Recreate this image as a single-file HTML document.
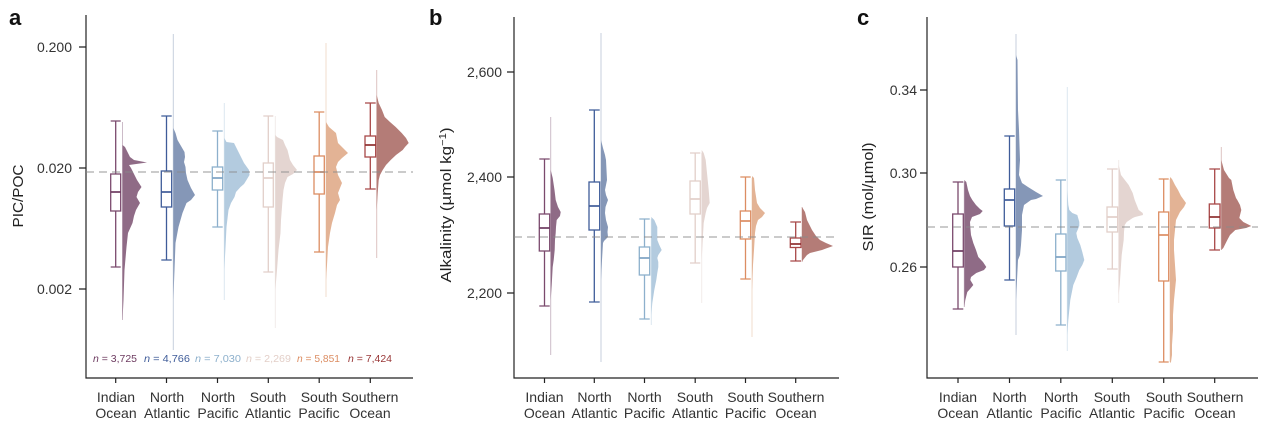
<!DOCTYPE html>
<html><head><meta charset="utf-8">
<style>
html,body{margin:0;padding:0;background:#fff;}
svg{display:block;}
text{font-family:"Liberation Sans",sans-serif;}
</style></head>
<body>
<svg width="1266" height="433" viewBox="0 0 1266 433" xmlns="http://www.w3.org/2000/svg">
<!-- panel letters -->
<text x="9" y="25" font-size="22" font-weight="bold" fill="#111">a</text>
<text x="429" y="25" font-size="22" font-weight="bold" fill="#111">b</text>
<text x="857" y="25" font-size="22" font-weight="bold" fill="#111">c</text>

<!-- axis labels -->
<text transform="translate(23,196) rotate(-90)" text-anchor="middle" font-size="15" fill="#222" textLength="63" lengthAdjust="spacingAndGlyphs">PIC/POC</text>
<text transform="translate(451,205) rotate(-90)" text-anchor="middle" font-size="15" fill="#222" textLength="155" lengthAdjust="spacingAndGlyphs">Alkalinity (µmol kg<tspan dy="-5" font-size="10">−1</tspan><tspan dy="5">)</tspan></text>
<text transform="translate(873,197) rotate(-90)" text-anchor="middle" font-size="15" fill="#222" textLength="109" lengthAdjust="spacingAndGlyphs">SIR (mol/µmol)</text>

<g font-size="14" fill="#333" text-anchor="end">
<text x="72" y="52">0.200</text>
<text x="72" y="173">0.020</text>
<text x="72" y="294">0.002</text>
<text x="502" y="77">2,600</text>
<text x="502" y="182">2,400</text>
<text x="502" y="298">2,200</text>
<text x="917" y="95">0.34</text>
<text x="917" y="178">0.30</text>
<text x="917" y="272">0.26</text>
</g>

<!-- axes -->
<g stroke="#222" stroke-width="1.2" fill="none">
<path d="M86,15 V378 H413"/>
<path d="M79,47 H86 M79,168 H86 M79,289 H86"/>
<path d="M115.7,378 v5 M166.5,378 v5 M217.5,378 v5 M268.3,378 v5 M319.2,378 v5 M370.3,378 v5"/>
<path d="M514,17 V378 H839"/>
<path d="M507,72 H514 M507,177 H514 M507,293 H514"/>
<path d="M544.5,378 v5 M594.3,378 v5 M644.5,378 v5 M695.2,378 v5 M745.5,378 v5 M795.7,378 v5"/>
<path d="M927,17 V378 H1258"/>
<path d="M920,90 H927 M920,173 H927 M920,267 H927"/>
<path d="M958,378 v5 M1009.5,378 v5 M1060.8,378 v5 M1112.3,378 v5 M1163.7,378 v5 M1214.7,378 v5"/>
</g>

<!-- category labels -->
<g font-size="14" fill="#333" text-anchor="middle">
<text x="116" y="402">Indian</text><text x="116" y="418">Ocean</text>
<text x="167" y="402">North</text><text x="167" y="418">Atlantic</text>
<text x="218" y="402">North</text><text x="218" y="418">Pacific</text>
<text x="268" y="402">South</text><text x="268" y="418">Atlantic</text>
<text x="319" y="402">South</text><text x="319" y="418">Pacific</text>
<text x="370" y="402">Southern</text><text x="370" y="418">Ocean</text>

<text x="544.5" y="402">Indian</text><text x="544.5" y="418">Ocean</text>
<text x="594.5" y="402">North</text><text x="594.5" y="418">Atlantic</text>
<text x="644.5" y="402">North</text><text x="644.5" y="418">Pacific</text>
<text x="695" y="402">South</text><text x="695" y="418">Atlantic</text>
<text x="745.5" y="402">South</text><text x="745.5" y="418">Pacific</text>
<text x="796" y="402">Southern</text><text x="796" y="418">Ocean</text>

<text x="958" y="402">Indian</text><text x="958" y="418">Ocean</text>
<text x="1009.5" y="402">North</text><text x="1009.5" y="418">Atlantic</text>
<text x="1061" y="402">North</text><text x="1061" y="418">Pacific</text>
<text x="1112" y="402">South</text><text x="1112" y="418">Atlantic</text>
<text x="1164" y="402">South</text><text x="1164" y="418">Pacific</text>
<text x="1215" y="402">Southern</text><text x="1215" y="418">Ocean</text>
</g>

<!-- n labels -->
<g font-size="10.5">
<text x="93" y="362" fill="#6d3b60" textLength="44" lengthAdjust="spacingAndGlyphs"><tspan font-style="italic">n</tspan> = 3,725</text>
<text x="144" y="362" fill="#3f5c99" textLength="46" lengthAdjust="spacingAndGlyphs"><tspan font-style="italic">n</tspan> = 4,766</text>
<text x="195" y="362" fill="#8db0cc" textLength="46" lengthAdjust="spacingAndGlyphs"><tspan font-style="italic">n</tspan> = 7,030</text>
<text x="246" y="362" fill="#e3cfc8" textLength="45" lengthAdjust="spacingAndGlyphs"><tspan font-style="italic">n</tspan> = 2,269</text>
<text x="297" y="362" fill="#dc8d62" textLength="43" lengthAdjust="spacingAndGlyphs"><tspan font-style="italic">n</tspan> = 5,851</text>
<text x="348" y="362" fill="#983636" textLength="44" lengthAdjust="spacingAndGlyphs"><tspan font-style="italic">n</tspan> = 7,424</text>
</g>

<!-- tails (thin lines) -->
<g stroke-width="1" opacity="0.45">
<path stroke="#8f6b86" d="M122.5,122 V320"/>
<path stroke="#8597b7" d="M173.3,34 V350"/>
<path stroke="#b3cbdf" d="M224.3,103 V300"/>
<path stroke="#e4d5d1" d="M275.3,116 V328"/>
<path stroke="#e3b395" d="M326,43 V297"/>
<path stroke="#b47c77" d="M376.7,70 V258"/>

<path stroke="#8f6b86" d="M550.7,117 V355"/>
<path stroke="#8597b7" d="M601,33 V362"/>
<path stroke="#b3cbdf" d="M651.3,219 V325"/>
<path stroke="#e4d5d1" d="M701.7,153 V303"/>
<path stroke="#e3b395" d="M752,178 V337"/>
<path stroke="#b47c77" d="M802,207 V262"/>

<path stroke="#8f6b86" d="M964.3,182 V307"/>
<path stroke="#8597b7" d="M1016,34 V335"/>
<path stroke="#b3cbdf" d="M1067.3,87 V351"/>
<path stroke="#e4d5d1" d="M1118.7,160 V303"/>
<path stroke="#e3b395" d="M1170,179 V362"/>
<path stroke="#b47c77" d="M1221.3,147 V250"/>
</g>

<!-- violins panel a -->
<polygon fill="#8f6b86" points="122.5,145 125,147 130,157 134,160 147,162.5 129,165 131,168 133,172 137,180 141.5,187 138,192 136.5,197 140,203 136,210 134,216 132.5,223 128,233 126.5,247 124.5,270 123.5,300 122.5,320"/>
<polygon fill="#8597b7" points="173.3,128 175.5,133 177.5,140 181,146 184.5,152 185,157 184,162 185.5,167 186,173 187.5,180 191,188 195,195 191,200 186.5,203 182.5,213 178.5,227 175.5,243 174.5,270 173.3,300"/>
<polygon fill="#b3cbdf" points="224.3,138 226.5,142 234,143 239,153 244,163 249,170 249.5,175 246.5,180 244,184 240.5,187 236,192 234.5,197 231,203 228.5,210 226.5,227 225.5,247 224.3,270"/>
<polygon fill="#e4d5d1" points="275.3,135 277,137 283,140 285,145 287.5,150 290,160 293,165 297,170 293,174 287.5,177 285,183 283.5,190 282.5,200 282,207 281,220 280.5,233 278.5,250 277,270 275.3,290"/>
<polygon fill="#e3b395" points="326,122 329,127 336,133 337,138 338,143 343,148 348,153 342,158 338,162 336,167 338,175 342,183 340,188 338,193 340,200 337,205 335,213 332,223 330,233 328,247 327,265 326,280"/>
<polygon fill="#b47c77" points="376.7,95 378.7,103 382,110 384.7,117 390,122 395.7,127 401.7,133 406,138 408.7,143 405,147 402.7,150 396,155 390.7,160 386,165 382.7,170 380,175 378.7,180 377.7,193 376.7,210"/>

<!-- violins panel b -->
<polygon fill="#8f6b86" points="550.7,170 552.7,178 554.5,190 555.7,200 558,207 560.7,212 560,216 556.7,220 556,227 555.7,233 555,240 554.7,250 553.7,260 552.7,267 551.7,285 550.7,300"/>
<polygon fill="#8597b7" points="601,140 603,148 605,155 606,160 606.5,170 607,180 605,190 606,195 608,200 605.5,207 605,213 606,220 608,227 607.5,232 608,237 604,241 603,243 602,260 601,280"/>
<polygon fill="#b3cbdf" points="651.3,217 654.3,220 657.3,227 657.3,233 657.3,240 659.3,245 661.7,250 658.3,255 657.3,258 658.3,262 658.3,267 657.3,273 656.3,280 654.3,290 652.3,303 651.3,315"/>
<polygon fill="#e4d5d1" points="701.7,150 703.7,153 705.7,160 706.7,170 707.7,180 708.7,190 709.7,203 707,208 705.7,213 703.7,223 702.7,240 701.7,260"/>
<polygon fill="#e3b395" points="752,176 754,178 755,190 757,203 760,208 765,213 762,217 758,220 756,226 755,233 754,250 753,265 752,290"/>
<polygon fill="#b47c77" points="802,207 805,212 807,220 812,230 816,236 820,240 826,243 833,246 826,248.5 822,250 810,253 807,255 803,260 802,262"/>

<!-- violins panel c -->
<polygon fill="#8f6b86" points="964.3,180 966.3,182 968,190 970,196 972.3,200 976,205 980,209 982.7,211 980,214 972,217 970,222 970.3,227 971,235 973.3,243 976,250 978.3,257 983,262 986.3,267 984,270 976.3,273 971,277 970.3,280 973.3,285 970,289 967.3,292 965.3,300 964.3,307"/>
<polygon fill="#8597b7" points="1016,55 1017.5,60 1018,110 1019,130 1020,160 1019,175 1022,183 1028,187 1036,192 1043,196 1036,199 1031,200 1024,205 1022,215 1022,230 1021,245 1020,255 1018,260 1017,280 1016,300"/>
<polygon fill="#b3cbdf" points="1067.3,190 1068.3,205 1069.3,210 1072.3,213 1077.3,215 1079.3,222 1079.3,226 1076.3,233 1077.3,238 1080.3,245 1082.3,252 1084.3,260 1082.3,265 1079.3,270 1076.3,278 1073.3,285 1070.3,300 1068.3,320 1067.3,335"/>
<polygon fill="#e4d5d1" points="1118.7,165 1121,175 1128.7,185 1132.7,193 1134.7,200 1138.7,210 1142.7,213 1143,215 1135,217 1132.7,218 1126.7,222 1124.7,225 1124,232 1123.7,240 1121.7,255 1120.7,270 1119.7,285 1118.7,295"/>
<polygon fill="#e3b395" points="1170,177 1172,179 1175,185 1178,190 1181,196 1186,203 1184,207 1180,212 1176,220 1175,230 1174,240 1174,250 1175,265 1176,280 1175,290 1174,300 1173,315 1173,330 1172,345 1172,355 1171,362 1170,363"/>
<polygon fill="#b47c77" points="1221.3,160 1224,170 1229,178 1231.3,180 1233.3,190 1236,198 1237.3,200 1240,205 1241.3,210 1239.3,218 1243.3,222 1251.3,226 1246,228 1235.3,230 1230,235 1227.3,240 1223.3,248 1221.3,250"/>

<!-- boxplots -->
<g fill="#fff" stroke-width="1.3">
<!-- panel a -->
<g stroke="#7b4a6d"><path fill="none" d="M115.7,121 V174 M115.7,211 V267 M110.7,121 H120.7 M110.7,267 H120.7"/><rect x="110.7" y="174" width="10" height="37"/><path stroke-width="1.7" stroke="#6d3b60" d="M110.7,192 H120.7"/></g>
<g stroke="#3f5c99"><path fill="none" d="M166.5,116 V171 M166.5,207 V260 M161.3,116 H171.7 M161.3,260 H171.7"/><rect x="161.3" y="171" width="10.4" height="36"/><path stroke-width="1.7" d="M161.3,192 H171.7"/></g>
<g stroke="#8db0cc"><path fill="none" d="M217.5,131 V167 M217.5,190 V227 M212.3,131 H222.7 M212.3,227 H222.7"/><rect x="212.3" y="167" width="10.4" height="23"/><path stroke-width="1.7" stroke="#7da3c3" d="M212.3,178 H222.7"/></g>
<g stroke="#e2cfc9"><path fill="none" d="M268.3,116 V163 M268.3,207 V272 M263.3,116 H273.3 M263.3,272 H273.3"/><rect x="263.3" y="163" width="10" height="44"/><path stroke-width="1.7" d="M263.3,178 H273.3"/></g>
<g stroke="#dc8d62"><path fill="none" d="M319.2,112 V156 M319.2,194 V252 M314,112 H324.3 M314,252 H324.3"/><rect x="314" y="156" width="10.3" height="38"/><path stroke-width="1.7" d="M314,172 H324.3"/></g>
<g stroke="#a84848"><path fill="none" d="M370.3,103 V136 M370.3,157 V189 M365,103 H375.7 M365,189 H375.7"/><rect x="365" y="136" width="10.7" height="21"/><path stroke-width="1.7" stroke="#8e2f2f" d="M365,145 H375.7"/></g>
<!-- panel b -->
<g stroke="#7b4a6d"><path fill="none" d="M544.5,159 V214 M544.5,251 V306 M539.3,159 H549.7 M539.3,306 H549.7"/><rect x="539.3" y="214" width="10.4" height="37"/><path stroke-width="1.7" stroke="#6d3b60" d="M539.3,228 H549.7"/></g>
<g stroke="#3f5c99"><path fill="none" d="M594.3,110 V182 M594.3,230 V302 M589,110 H599.7 M589,302 H599.7"/><rect x="589" y="182" width="10.7" height="48"/><path stroke-width="1.7" d="M589,206 H599.7"/></g>
<g stroke="#8db0cc"><path fill="none" d="M644.5,219 V247 M644.5,275 V319 M639.3,219 H649.7 M639.3,319 H649.7"/><rect x="639.3" y="247" width="10.4" height="28"/><path stroke-width="1.7" stroke="#7da3c3" d="M639.3,258 H649.7"/></g>
<g stroke="#e2cfc9"><path fill="none" d="M695.2,153 V181 M695.2,214 V263 M690,153 H700.3 M690,263 H700.3"/><rect x="690" y="181" width="10.3" height="33"/><path stroke-width="1.7" d="M690,199 H700.3"/></g>
<g stroke="#dc8d62"><path fill="none" d="M745.5,177 V211 M745.5,239 V279 M740.3,177 H750.7 M740.3,279 H750.7"/><rect x="740.3" y="211" width="10.4" height="28"/><path stroke-width="1.7" d="M740.3,221 H750.7"/></g>
<g stroke="#a84848"><path fill="none" d="M795.7,222 V238 M795.7,247.5 V261 M790.3,222 H801 M790.3,261 H801"/><rect x="790.3" y="238" width="10.7" height="9.5"/><path stroke-width="1.7" stroke="#8e2f2f" d="M790.3,244 H801"/></g>
<!-- panel c -->
<g stroke="#7b4a6d"><path fill="none" d="M958,182 V214 M958,267 V309 M952.7,182 H963.3 M952.7,309 H963.3"/><rect x="952.7" y="214" width="10.6" height="53"/><path stroke-width="1.7" stroke="#6d3b60" d="M952.7,251 H963.3"/></g>
<g stroke="#3f5c99"><path fill="none" d="M1009.5,136 V189 M1009.5,226 V280 M1004.3,136 H1014.7 M1004.3,280 H1014.7"/><rect x="1004.3" y="189" width="10.4" height="37"/><path stroke-width="1.7" d="M1004.3,200 H1014.7"/></g>
<g stroke="#8db0cc"><path fill="none" d="M1060.8,180 V234 M1060.8,271 V325 M1055.7,180 H1066 M1055.7,325 H1066"/><rect x="1055.7" y="234" width="10.3" height="37"/><path stroke-width="1.7" stroke="#7da3c3" d="M1055.7,257 H1066"/></g>
<g stroke="#e2cfc9"><path fill="none" d="M1112.3,169 V207 M1112.3,232 V269 M1107,169 H1117.7 M1107,269 H1117.7"/><rect x="1107" y="207" width="10.7" height="25"/><path stroke-width="1.7" d="M1107,217 H1117.7"/></g>
<g stroke="#dc8d62"><path fill="none" d="M1163.7,179 V212 M1163.7,281 V362 M1158.7,179 H1168.7 M1158.7,362 H1168.7"/><rect x="1158.7" y="212" width="10" height="69"/><path stroke-width="1.7" d="M1158.7,235 H1168.7"/></g>
<g stroke="#a84848"><path fill="none" d="M1214.7,169 V204 M1214.7,228 V250 M1209.3,169 H1220 M1209.3,250 H1220"/><rect x="1209.3" y="204" width="10.7" height="24"/><path stroke-width="1.7" stroke="#8e2f2f" d="M1209.3,217 H1220"/></g>
</g>

<!-- dashed reference lines -->
<g stroke="#8a8a8a" stroke-width="1.3" stroke-dasharray="8 5" opacity="0.7">
<path d="M86,172 H413"/>
<path d="M514,237 H839"/>
<path d="M927,227 H1258"/>
</g>
</svg>
</body></html>
